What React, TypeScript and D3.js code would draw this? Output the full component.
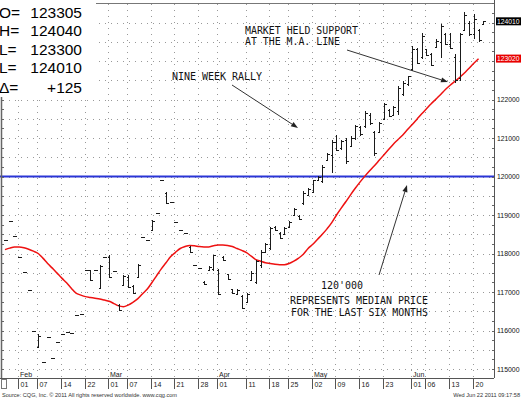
import * as d3 from 'd3';
import React from 'react';

// daily bars, Jan 27 .. Jun 22 2011 (price in points)
const highs = [
  118.36, 118.84, 118.45, 117.9, 117.52, 117.04, 116.0, 115.9, 115.19, 115.83,
  115.29, 115.71, 115.9, 115.97, 115.94, 116.4, 116.43, 117.56, 117.58, 117.58,
  117.71, 117.9, 117.95, 117.54, 116.68, 117.45, 117.43, 117.17, 117.73, 118.43,
  118.36, 118.88, 119.04, 119.91, 119.6, 119.33, 118.82, 118.61, 118.54, 118.19,
  117.71, 117.63, 117.28, 117.67, 117.97, 117.61, 117.93, 117.48, 117.09, 117.09,
  116.93, 116.98, 117.54, 117.84, 118.1, 118.28, 118.69, 118.71, 118.55, 118.69,
  118.84, 119.19, 119.01, 119.62, 119.71, 119.92, 120.01, 120.29, 120.62, 120.96,
  121.07, 120.96, 121.0, 121.05, 121.35, 121.31, 121.7, 121.65, 121.18, 121.41,
  121.91, 121.76, 121.84, 122.36, 122.48, 122.62, 123.39, 123.34, 123.73, 123.32,
  123.21, 123.56, 123.95, 123.73, 123.73, 123.17, 123.73, 124.27, 124.04, 124.21,
  123.84, 124.05,
];
const lows = [
  118.36, 118.84, 118.45, 117.9, 117.52, 117.04, 116.0, 115.55, 115.19, 115.83,
  115.29, 115.71, 115.9, 115.97, 115.94, 116.4, 116.43, 117.56, 117.28, 117.58,
  117.08, 117.9, 117.37, 117.54, 116.5, 117.15, 117.11, 116.96, 117.37, 118.43,
  118.36, 118.6, 119.04, 119.91, 119.29, 119.33, 118.82, 118.61, 118.54, 118.02,
  117.71, 117.63, 117.19, 117.54, 117.54, 116.91, 117.8, 117.32, 116.96, 116.91,
  116.55, 116.72, 117.28, 117.2, 117.63, 118.02, 118.1, 118.58, 118.38, 118.49,
  118.69, 118.97, 118.88, 119.27, 119.49, 119.58, 119.88, 119.84, 120.4, 120.1,
  120.66, 120.7, 120.33, 120.79, 120.96, 121.05, 121.26, 121.35, 120.53, 121.13,
  121.48, 121.55, 121.58, 121.61, 122.1, 122.35, 122.74, 122.91, 123.04, 123.13,
  122.87, 123.34, 123.08, 123.43, 123.3, 122.43, 122.48, 123.77, 123.65, 123.58,
  123.49, 123.93,
];
const opens = [
  118.36, 118.84, 118.45, 117.9, 117.52, 117.04, 116.0, 115.58, 115.19, 115.83,
  115.29, 115.71, 115.9, 115.97, 115.94, 116.4, 116.43, 117.56, 117.56, 117.58,
  117.1, 117.9, 117.9, 117.54, 116.65, 117.18, 117.4, 117.15, 117.4, 118.43,
  118.36, 118.62, 119.04, 119.91, 119.58, 119.33, 118.82, 118.61, 118.54, 118.17,
  117.71, 117.63, 117.26, 117.56, 117.6, 117.58, 117.9, 117.46, 117.07, 116.95,
  116.9, 116.75, 117.3, 117.25, 117.7, 118.05, 118.15, 118.68, 118.52, 118.5,
  118.7, 119.0, 118.98, 119.3, 119.52, 119.6, 119.9, 119.88, 120.42, 120.55,
  120.9, 120.75, 120.95, 120.8, 121.0, 121.28, 121.3, 121.6, 121.15, 121.15,
  121.5, 121.72, 121.6, 121.7, 122.15, 122.4, 122.78, 123.3, 123.1, 123.3,
  123.18, 123.36, 123.5, 123.7, 123.45, 123.1, 122.55, 123.8, 124.0, 123.7,
  123.8, 123.95,
];
const closes = [
  118.36, 118.84, 118.45, 117.9, 117.52, 117.04, 116.0, 115.87, 115.19, 115.83,
  115.29, 115.71, 115.9, 115.97, 115.94, 116.4, 116.43, 117.56, 117.3, 117.58,
  117.68, 117.9, 117.4, 117.54, 116.52, 117.42, 117.13, 116.98, 117.7, 118.43,
  118.36, 118.85, 119.04, 119.91, 119.32, 119.33, 118.82, 118.61, 118.54, 118.04,
  117.71, 117.63, 117.21, 117.65, 117.95, 116.95, 117.82, 117.34, 116.98, 117.06,
  116.58, 116.95, 117.5, 117.8, 118.05, 118.25, 118.65, 118.6, 118.4, 118.67,
  118.82, 119.15, 118.9, 119.58, 119.68, 119.9, 119.98, 120.25, 120.58, 120.9,
  120.7, 120.92, 120.4, 121.0, 121.3, 121.1, 121.65, 121.4, 120.6, 121.38,
  121.88, 121.58, 121.8, 122.3, 122.42, 122.6, 123.3, 122.95, 123.65, 123.15,
  122.9, 123.52, 123.9, 123.45, 123.35, 122.5, 123.7, 124.2, 123.7, 124.1,
  123.55, 124.03,
];
// moving average (red)
const maValues = [
  118.1, 118.14, 118.17, 118.17, 118.15, 118.11, 118.06, 118.0, 117.88, 117.74,
  117.62, 117.49, 117.36, 117.24, 117.1, 116.97, 116.92, 116.88, 116.86, 116.84,
  116.82, 116.79, 116.76, 116.7, 116.64, 116.62, 116.66, 116.73, 116.82, 116.95,
  117.07, 117.24, 117.42, 117.6, 117.76, 117.92, 118.03, 118.13, 118.18, 118.21,
  118.2, 118.18, 118.17, 118.17, 118.2, 118.22, 118.22, 118.21, 118.18, 118.13,
  118.08, 118.02, 117.93, 117.84, 117.8, 117.76, 117.74, 117.72, 117.71, 117.71,
  117.74, 117.8, 117.88, 117.98, 118.13, 118.24, 118.37, 118.5, 118.64, 118.8,
  119.0, 119.18, 119.35, 119.53, 119.7, 119.86, 120.01, 120.15, 120.28, 120.42,
  120.56, 120.7, 120.84, 120.96, 121.08, 121.22, 121.35, 121.49, 121.63, 121.76,
  121.89, 122.01, 122.13, 122.26, 122.37, 122.47, 122.57, 122.69, 122.81, 122.94,
  123.06,
];

const weekIdx = [3, 7, 12, 17, 22, 26, 31, 36, 41, 45, 51, 56, 60, 65, 70, 75, 80, 86, 89, 94, 99];
const weekLabels = ['01', '07', '14', '22', '01', '07', '14', '21', '28', '01', '11', '18', '25', '02', '09', '16', '23', '01', '06', '13', '20'];
const monthIdx = [3, 22, 45, 65, 86];
const monthLabels = ['Feb', 'Mar', 'Apr', 'May', 'Jun'];
const priceTicks = [115, 116, 117, 118, 119, 120, 121, 122];
const medianPrice = 120;

const quoteNames = ['O=', 'H=', 'L=', 'L=', 'Δ='];
const quoteValues = ['123305', '124040', '123300', '124010', '+125'];

const W = 521;
const H = 399;
const plotRight = 494;
const plotBottom = 378;

const App = () => {
  const x = d3.scaleLinear([0, highs.length - 1], [5, 483.3]);
  const y = d3.scaleLinear([115, 124], [369, 22.5]);

  const maLine = d3.line<number>((d, i) => x(i), (d) => y(d)).curve(d3.curveMonotoneX);

  const gridY = d3.range(115, 124.51, 0.5);
  const minorY = d3.range(115, 124.51, 0.25);
  const mono = '"DejaVu Sans Mono", monospace';
  const sans = '"Liberation Sans", Arial, sans-serif';

  const arrow = (x1, y1, x2, y2) => {
    const a = Math.atan2(y2 - y1, x2 - x1);
    const l = 7, w = 2.6;
    const bx = x2 - l * Math.cos(a), by = y2 - l * Math.sin(a);
    const px = -Math.sin(a) * w, py = Math.cos(a) * w;
    return (
      <g>
        <line x1={x1} y1={y1} x2={bx} y2={by} stroke="#333" strokeWidth={1} />
        <path d={`M${x2},${y2}L${bx + px},${by + py}L${bx - px},${by - py}Z`} fill="#222" />
      </g>
    );
  };

  return (
    <svg width={W} height={H} style={{ position: 'absolute', left: 0, top: 0, background: '#fff' }}>
      <rect width={W} height={H} fill="#fff" />

      {/* grid */}
      <g stroke="#999" strokeWidth={1} strokeDasharray="1 5">
        {gridY.map((v) => (
          <line key={v} x1={3} x2={plotRight} y1={Math.round(y(v)) + 0.5} y2={Math.round(y(v)) + 0.5} />
        ))}
        {weekIdx.map((i) => (
          <line key={i} x1={Math.round(x(i) - 1) + 0.5} x2={Math.round(x(i) - 1) + 0.5} y1={4} y2={plotBottom} />
        ))}
      </g>

      {/* median line */}
      <line x1={0} x2={plotRight} y1={y(medianPrice)} y2={y(medianPrice)} stroke="#2a35d6" strokeWidth={2} />

      {/* moving average */}
      <path d={maLine(maValues)} fill="none" stroke="#ee1111" strokeWidth={1.5} />

      {/* bars */}
      <g stroke="#1a1a1a" shapeRendering="crispEdges">
        {highs.map((h, i) => {
          const cx = Math.round(x(i)) + 0.5;
          return (
            <g key={i}>
              {h > lows[i] && <line x1={cx} x2={cx} y1={y(h)} y2={y(lows[i])} strokeWidth={1} />}
              <line x1={cx - 2} x2={cx + 0.5} y1={Math.round(y(opens[i])) + 0.5} y2={Math.round(y(opens[i])) + 0.5} strokeWidth={1} />
              <line x1={cx - 0.5} x2={cx + 2} y1={Math.round(y(closes[i])) + 0.5} y2={Math.round(y(closes[i])) + 0.5} strokeWidth={1} />
            </g>
          );
        })}
      </g>

      {/* annotations */}
      <g fontFamily={mono} fontSize={11} fill="#111">
        <text x={245} y={33.5} textLength={113} lengthAdjust="spacingAndGlyphs">MARKET HELD SUPPORT</text>
        <text x={245} y={45} textLength={95} lengthAdjust="spacingAndGlyphs">AT THE M.A. LINE</text>
        <text x={172} y={80} textLength={90} lengthAdjust="spacingAndGlyphs">NINE WEEK RALLY</text>
        <text x={321} y={289} textLength={42} lengthAdjust="spacingAndGlyphs">120'000</text>
        <text x={290} y={304} textLength={138} lengthAdjust="spacingAndGlyphs">REPRESENTS MEDIAN PRICE</text>
        <text x={291} y={315.5} textLength={137} lengthAdjust="spacingAndGlyphs">FOR THE LAST SIX MONTHS</text>
      </g>
      {arrow(347, 50, 448, 82)}
      {arrow(232, 85, 298, 128)}
      {arrow(379, 275, 407, 185)}

      {/* quote box */}
      <rect x={0} y={0} width={96} height={97} fill="#fff" />
      <g fontFamily={sans} fontSize={15.5} fill="#000">
        {quoteNames.map((n, i) => (
          <g key={i}>
            <text x={-1} y={17.5 + i * 18.5 + (i === 4 ? 1.5 : 0)}>{n}</text>
            <text x={82} y={17.5 + i * 18.5 + (i === 4 ? 1.5 : 0)} textAnchor="end">{quoteValues[i]}</text>
          </g>
        ))}
      </g>

      {/* frame */}
      <line x1={96} x2={plotRight} y1={3.5} y2={3.5} stroke="#777" />
      <line x1={1.5} x2={1.5} y1={97} y2={plotBottom} stroke="#666" strokeWidth={1.5} />
      <line x1={plotRight + 0.5} x2={plotRight + 0.5} y1={0} y2={plotBottom} stroke="#555" />
      <g stroke="#666">
        {minorY.map((v) => (
          <g key={v}>
            <line x1={plotRight - 2} x2={plotRight} y1={Math.round(y(v)) + 0.5} y2={Math.round(y(v)) + 0.5} />
            {y(v) > 97 && <line x1={2} x2={4} y1={Math.round(y(v)) + 0.5} y2={Math.round(y(v)) + 0.5} />}
          </g>
        ))}
      </g>

      {/* price axis */}
      <g fontFamily={sans} fontSize={6.8} fill="#111">
        {priceTicks.map((v) => (
          <text key={v} x={497} y={y(v) + 2.5} textLength={22.5} lengthAdjust="spacingAndGlyphs">{`${v}000`}</text>
        ))}
        <rect x={496} y={y(124.031) - 4} width={25} height={8} fill="#000" />
        <text x={497} y={y(124.031) + 2.5} fill="#fff" textLength={22.5} lengthAdjust="spacingAndGlyphs">124010</text>
        <rect x={496} y={y(123.0625) - 4} width={25} height={8} fill="#e80000" />
        <text x={497} y={y(123.0625) + 2.5} fill="#fff" textLength={22.5} lengthAdjust="spacingAndGlyphs">123020</text>
      </g>

      {/* date axis */}
      <line x1={0} x2={plotRight} y1={plotBottom + 0.5} y2={plotBottom + 0.5} stroke="#555" />
      <rect x={1.5} y={379.5} width={5} height={9} fill="#fff" stroke="#777" />
      <g fontFamily={sans} fontSize={7} fill="#222">
        {monthIdx.map((i, k) => (
          <text key={i} x={Math.round(x(i) - 1) + 2} y={376.5}>{monthLabels[k]}</text>
        ))}
        {weekIdx.map((i, k) => {
          const sx = Math.round(x(i) - 1) + 0.5;
          return (
            <g key={i}>
              <line x1={sx} x2={sx} y1={plotBottom} y2={389} stroke="#555" />
              <text x={sx + 2} y={386.5}>{weekLabels[k]}</text>
            </g>
          );
        })}
      </g>
      <g fontFamily={sans} fontSize={5.6} fill="#333">
        <text x={2} y={397}>Source: CQG, Inc. © 2011 All rights reserved worldwide. www.cqg.com</text>
        <text x={520} y={397} textAnchor="end">Wed Jun 22 2011 09:17:58</text>
      </g>
    </svg>
  );
};

export default App;
